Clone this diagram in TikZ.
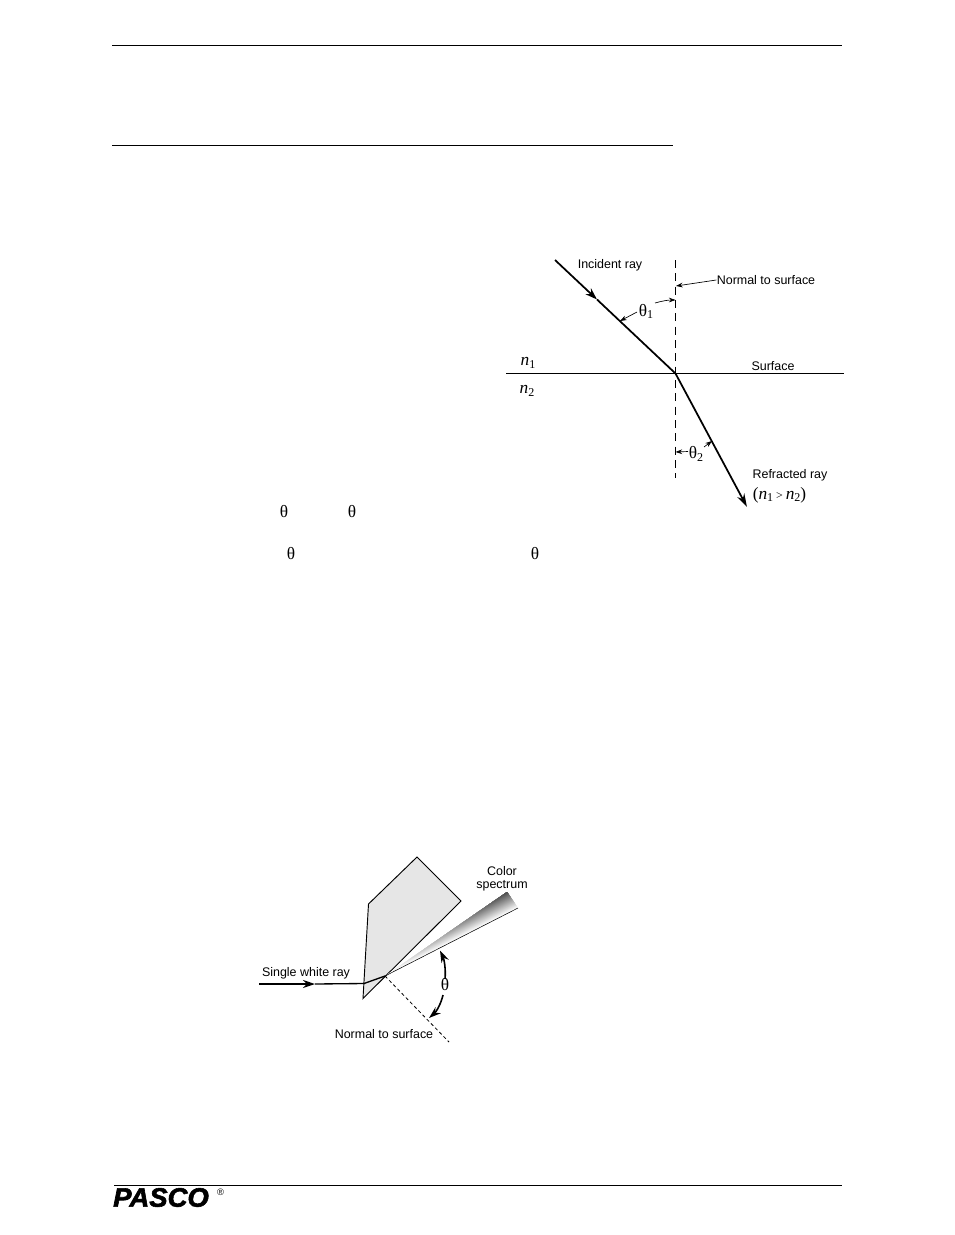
\documentclass[tikz,border=0pt]{standalone}
\usepackage{fontspec}
\setmainfont{Liberation Sans}
\newfontfamily\thetafont{Liberation Serif}
\newfontfamily\logofont[FakeBold=2.2]{Liberation Sans Bold Italic}
\usetikzlibrary{arrows.meta}
\newcommand{\lowsub}[1]{\raisebox{-0.3ex}{\small #1}}
\tikzset{every picture/.style={line width=0.75pt}}
\tikzset{
  lab/.style={font=\fontsize{9.35}{9.8}\selectfont,inner sep=0pt,align=center},
  sym/.style={font=\fontsize{13}{15}\thetafont,inner sep=0pt},
  pagerule/.style={line width=0.75pt},
  thickray/.style={line width=1.3pt},
  lead/.style={line width=0.5pt,-{Stealth[length=5pt,width=3.5pt]}},
  normline/.style={line width=0.7pt,dash pattern=on 6pt off 4pt},
  anglearrow/.style={line width=1.2pt,-{Stealth[length=9pt,width=6pt]}}
}

\begin{document}
\begin{tikzpicture}[x=0.75pt,y=0.75pt,yscale=-1,xscale=1]
\useasboundingbox (0,0) rectangle (954,1235);

%Page rules
\draw [pagerule] (112,45) -- (842,45);
\draw [pagerule] (112,145) -- (673,145);
\draw [pagerule] (114,1185) -- (842,1185);

%Points of the refraction figure
\coordinate (hit) at (675.5,373.5);
\coordinate (normtop) at (675.5,260);
\coordinate (normbot) at (675.5,478);
\coordinate (surfl) at (506,373.5);
\coordinate (surfr) at (844,373.5);
\coordinate (incstart) at (555,260);
\coordinate (incmid) at (597,299.5);
\coordinate (refend) at (747,507);

%Surface, normal and rays
\draw [line width=0.7pt] (surfl) -- (surfr);
\draw [normline] (normtop) -- (normbot);
\draw [thickray,-{Stealth[length=9pt,width=6pt]}] (incstart) -- (incmid);
\draw [thickray] (incmid) -- (hit);
\draw [thickray,-{Stealth[length=10pt,width=6pt]}] (hit) -- (refend);

% Text Node
\node (incident) at (610,265.5) [lab] {Incident ray};
\node (normlabel) at (766,280) [lab] {Normal to surface};
\node (surface) at (773,366) [lab] {Surface};
\node (refracted) at (790,475.5) [lab] {Refracted ray};
\node (ncompare) at (779.5,495) [sym] {(\textit{n}\lowsub{1}\,{\small >}\,\textit{n}\lowsub{2})};
\node (nup) at (528,363) [sym] {\textit{n}\lowsub{1}};
\node (ndown) at (527,391) [sym] {\textit{n}\lowsub{2}};
\node (thone) at (646,311.5) [sym] {θ\lowsub{1}};
\node (thtwo) at (696,454) [sym] {θ\lowsub{2}};

%Leaders
\coordinate (normtip) at (676,286);
\coordinate (oneray) at (620,321);
\coordinate (onenorm) at (675.5,300);
\coordinate (twonorm) at (675.5,452);
\coordinate (tworay) at (712,441);
\draw [lead] (normlabel.west) -- (normtip);
\draw [lead] (637,312) -- (oneray);
\draw [lead] (655,303) .. controls (662,301) and (668,300) .. (onenorm);
\draw [lead] (688,451.5) -- (twonorm);
\draw [lead] (704,447) -- (tworay);

%Stray symbols of the page
\node (tha) at (284,512) [sym] {θ};
\node (thb) at (352,512) [sym] {θ};
\node (thc) at (291,554) [sym] {θ};
\node (thd) at (535,554) [sym] {θ};

%Points of the prism figure
\coordinate (pa) at (417,857);
\coordinate (pb) at (461,901);
\coordinate (pc) at (363,998.5);
\coordinate (pd) at (368.5,904);
\coordinate (rayin) at (259,984);
\coordinate (raymid) at (315,984);
\coordinate (rayprism) at (364,983.5);
\coordinate (rayout) at (385,976);
\coordinate (specup) at (507,892);
\coordinate (speclow) at (518,908);
\coordinate (normend) at (449,1042);

%Prism
\draw [fill={rgb, 255:red, 230; green, 230; blue, 230 },line width=0.7pt] (pa) -- (pb) -- (pc) -- (pd) -- cycle;

%Spectrum
\begin{scope}
\clip (rayout) -- (specup) -- (speclow) -- cycle;
\foreach \s in {0,0.5,...,19.5}{
  \pgfmathsetmacro{\shadeval}{\s/19.5*72}
  \fill [black!\shadeval] ({385-0.455*\s},{976-0.89*\s}) -- ++(150,-76.7) -- ++(-15,-30) -- ++(-150,76.7) -- cycle;
}
\end{scope}
\draw [line width=0.4pt] (rayout) -- (speclow);

%Ray through the prism
\draw [thickray,-{Stealth[length=9pt,width=6pt]}] (rayin) -- (raymid);
\draw [line width=1pt] (raymid) -- (rayprism) -- (rayout);
\draw [line width=0.6pt,dash pattern=on 2.5pt off 2pt] (rayout) -- (normend);

% Text Node
\node (color) at (502,879) [lab] {Color\\spectrum};
\node (single) at (306,973) [lab] {Single white ray};
\node (normal2) at (384,1034) [lab] {Normal to surface};
\node (thp) at (445,985) [sym] {θ};

%Angle arrows
\coordinate (angup) at (440,950.5);
\coordinate (angdown) at (429,1018);
\draw [anglearrow] (445,979) .. controls (446,969) and (444,959) .. (angup);
\draw [anglearrow] (443,995) .. controls (441,1004) and (436,1012) .. (angdown);

%Logo
\node (logo) at (161,1197.5) [font=\fontsize{20}{22}\logofont,inner sep=0pt,xscale=1.03] {PASCO};
\node (reg) at (220.5,1192) [font=\fontsize{7}{9}\selectfont,inner sep=0pt] {®};

\end{tikzpicture}
\end{document}
